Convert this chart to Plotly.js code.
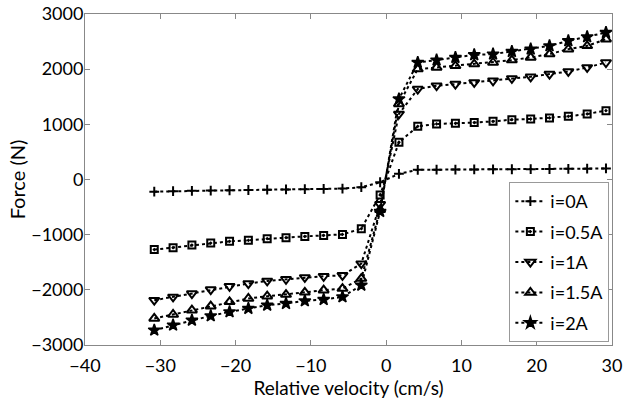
<!DOCTYPE html>
<html>
<head>
<meta charset="utf-8">
<script src="https://cdn.plot.ly/plotly-3.0.1.min.js"></script>
<style>html,body{margin:0;padding:0;background:#fff;overflow:hidden;}#chart{width:632px;height:399px;}</style>
</head>
<body>
<div id="chart"></div>
<script>
const velocity = [-30.8,-28.3,-25.8,-23.3,-20.8,-18.3,-15.8,-13.3,-10.8,-8.3,-5.8,-3.3,-0.8,
                  1.7,4.2,6.7,9.2,11.7,14.2,16.7,19.2,21.7,24.2,26.7,29.2];
const force_0A   = [-220,-212,-206,-200,-195,-190,-185,-180,-175,-170,-165,-140,-50,
                    103,175,178,180,182,184,186,188,190,193,196,200];
const force_05A  = [-1271,-1235,-1188,-1152,-1121,-1103,-1072,-1054,-1031,-1013,-995,-892,-280,
                    675,964,1007,1018,1031,1054,1085,1097,1116,1145,1188,1248];
const force_1A   = [-2188,-2128,-2067,-1995,-1935,-1886,-1839,-1808,-1775,-1754,-1736,-1525,-450,
                    1188,1640,1700,1730,1760,1790,1832,1862,1911,1958,2031,2121];
const force_15A  = [-2519,-2447,-2369,-2297,-2218,-2157,-2116,-2085,-2045,-2007,-1977,-1796,-550,
                    1369,2002,2031,2061,2092,2121,2164,2212,2273,2363,2423,2544];
const force_2A   = [-2731,-2640,-2550,-2472,-2399,-2338,-2278,-2248,-2200,-2176,-2128,-1917,-580,
                    1459,2121,2164,2212,2260,2273,2320,2363,2423,2514,2586,2664];
const seriesNames = ['i=0A','i=0.5A','i=1A','i=1.5A','i=2A'];

const lineStyle = {color:'black', width:2, dash:'dot'};
function tr(y, name, symbol, size, extra) {
  return {
    x: velocity, y: y, name: name, mode: 'lines+markers', type: 'scatter',
    legendgroup: name,
    line: lineStyle,
    marker: Object.assign({symbol: symbol, size: size, color: 'black',
      line: {color: 'black', width: 2}}, extra || {})
  };
}
const data = [
  tr(force_0A, seriesNames[0], 'cross-thin', 7),
  tr(force_05A, seriesNames[1], 'square-open-dot', 7),
  tr(force_1A, seriesNames[2], 'triangle-down-open', 9),
  tr(force_15A, seriesNames[3], 'triangle-up-open', 9),
  tr(force_2A, seriesNames[4], 'star', 9, {line:{color:'black',width:1.5}})
];
const fam = 'Lato, "Open Sans", sans-serif';
const fnt = {family:fam, size:18, color:'black'};
const layout = {
  width: 632, height: 399,
  margin: {l:85, r:20, t:14, b:54},
  paper_bgcolor: 'white', plot_bgcolor: 'white',
  font: fnt,
  showlegend: true,
  legend: {
    x: 0.995, y: 0.009, xanchor: 'right', yanchor: 'bottom',
    bordercolor: '#999', borderwidth: 1, bgcolor: 'white',
    font: fnt,
    traceorder: 'grouped', tracegroupgap: 4,
    itemwidth: 30
  },
  xaxis: {
    range: [-40, 30], dtick: 10, tick0: 0, automargin: false,
    showgrid: false, zeroline: false,
    showline: true, linecolor: '#888', linewidth: 1, mirror: 'ticks',
    ticks: 'inside', ticklen: 5, tickcolor: '#888',
    ticklabelstandoff: 4,
    tickfont: fnt,
    title: {text: 'Relative velocity (cm/s)', font: {family:fam, size:19, color:'black'}, standoff: 0}
  },
  yaxis: {
    range: [-3000, 3000], dtick: 1000, tick0: 0, automargin: false,
    showgrid: false, zeroline: false,
    showline: true, linecolor: '#888', linewidth: 1, mirror: 'ticks',
    ticks: 'inside', ticklen: 5, tickcolor: '#888',
    ticklabelstandoff: -3,
    tickfont: fnt,
    title: {text: 'Force (N)', font: {family:fam, size:20, color:'black'}, standoff: 0}
  }
};
Plotly.newPlot('chart', data, layout, {staticPlot: true, displayModeBar: false});
</script>
</body>
</html>
